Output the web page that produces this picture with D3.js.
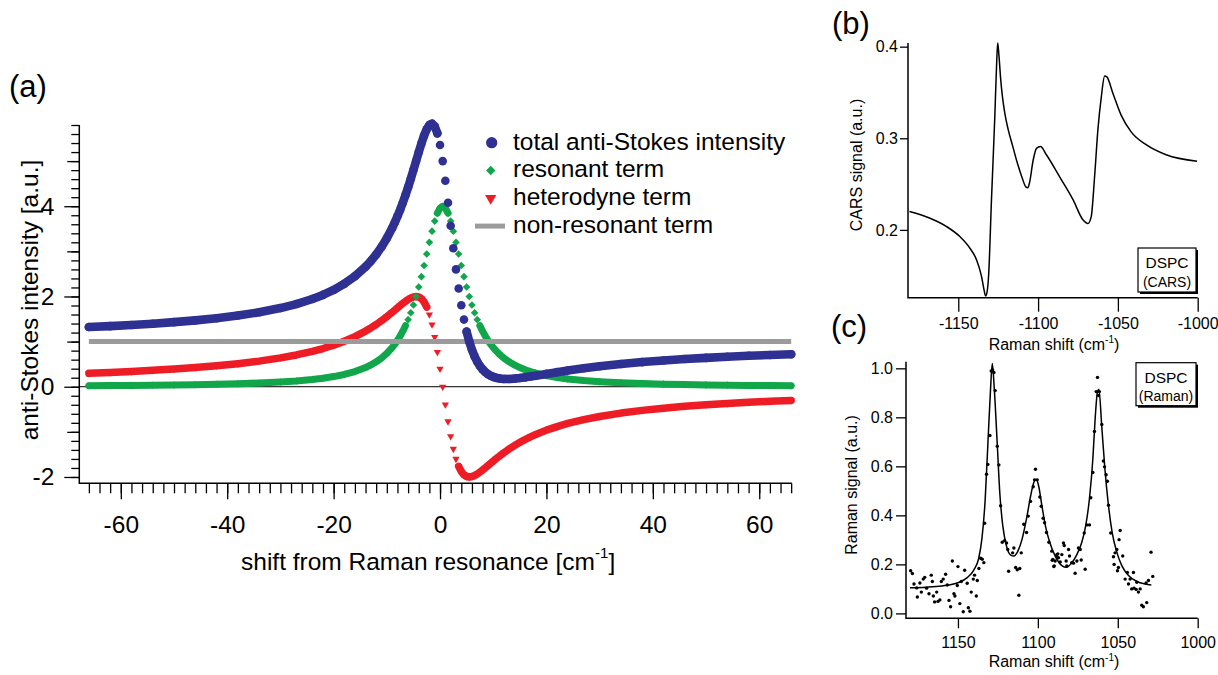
<!DOCTYPE html>
<html><head><meta charset="utf-8">
<script src="https://cdn.jsdelivr.net/npm/d3@7"></script>
<style>
html,body{margin:0;padding:0;background:#fff;}
svg{display:block;font-family:"Liberation Sans",Arial,Helvetica,sans-serif;}
</style></head><body>
<svg id="chart" width="1218" height="675"></svg>
<script>
// ---------- Panel (a) data ----------
const shift = [-66,-62,-58,-54,-50,-46,-42,-38,-34,-30,-27,-24,-22,-20,-18,-16,-14,-13,-12,-11,-10,-9,
  -8.5,-8,-7.5,-7,-6.5,-6,-5.5,-5,-4.5,-4,-3.5,-3,-2.5,-2,-1.5,-1,-0.5,0,0.5,1,1.5,2,2.5,3,3.5,4,4.5,5,5.5,6,
  6.5,7,7.5,8,8.5,9,9.5,10,10.5,11,11.5,12,13,14,15,16,17,18,20,22,24,27,30,34,38,42,46,50,54,58,62,66];
const totalIntensity = [1.322,1.343,1.368,1.397,1.431,1.471,1.519,1.577,1.650,1.743,1.832,1.944,2.035,2.145,2.280,2.447,2.658,2.785,2.931,3.099,3.292,3.516,
  3.641,3.776,3.921,4.077,4.243,4.420,4.607,4.801,5.000,5.199,5.390,5.564,5.706,5.800,5.828,5.771,5.615,5.356,5.000,4.564,
  4.077,3.569,3.069,2.600,2.177,1.805,1.488,1.221,1.000,0.819,0.672,0.554,0.460,0.385,0.326,0.280,0.245,0.219,0.200,0.187,
  0.178,0.173,0.172,0.180,0.192,0.208,0.226,0.245,0.284,0.323,0.359,0.409,0.453,0.503,0.546,0.582,0.613,0.640,0.664,0.685,0.703,0.720];
const resonantTerm = [0.0225,0.0254,0.029,0.0334,0.0388,0.0457,0.0546,0.0663,0.0823,0.1047,0.128,0.160,0.188,0.225,0.272,0.336,0.425,0.483,0.552,0.636,0.739,0.868,
  0.943,1.028,1.124,1.231,1.351,1.487,1.639,1.810,2.000,2.210,2.439,2.685,2.941,3.200,3.448,3.670,3.846,3.960,4.000,3.960,
  3.846,3.670,3.448,3.200,2.941,2.685,2.439,2.210,2.000,1.810,1.639,1.487,1.351,1.231,1.124,1.028,0.943,0.868,0.800,0.739,
  0.685,0.636,0.552,0.483,0.425,0.377,0.336,0.302,0.247,0.205,0.173,0.138,0.112,0.0872,0.0699,0.0572,0.0477,0.0404,0.0346,0.030,0.0263,0.0232];
const heterodyneTerm = [0.299,0.318,0.339,0.364,0.392,0.425,0.464,0.511,0.568,0.639,0.704,0.784,0.847,0.921,1.008,1.110,1.233,1.303,1.379,1.463,1.553,1.649,
  1.698,1.748,1.798,1.846,1.892,1.933,1.967,1.991,2.000,1.989,1.951,1.879,1.765,1.600,1.379,1.101,0.769,0.396,0,-0.396,
  -0.769,-1.101,-1.379,-1.600,-1.765,-1.879,-1.951,-1.989,-2.000,-1.991,-1.967,-1.933,-1.892,-1.846,-1.798,-1.748,-1.698,-1.649,-1.600,-1.553,
  -1.507,-1.463,-1.379,-1.303,-1.233,-1.169,-1.110,-1.057,-0.962,-0.883,-0.814,-0.729,-0.659,-0.584,-0.524,-0.475,-0.434,-0.400,-0.371,-0.345,-0.323,-0.304];
const nonResonantLevel = 1;
const nonResonantRange = [-66, 66];
const xTicksA = [-60,-40,-20,0,20,40,60];
const yTicksA = [-2,0,2,4];
const legendLabels = ["total anti-Stokes intensity","resonant term","heterodyne term","non-resonant term"];

// ---------- Panel (b) data ----------
const carsShift = [-1180.6,-1167.7,-1157.3,-1149,-1142.7,-1138.5,-1135.4,-1133.8,-1132.9,-1131.9,-1131.0,-1129.2,-1127.1,-1125.9,-1125.3,
  -1124.5,-1123.5,-1122.3,-1120.8,-1118.8,-1116.0,-1113.0,-1110.0,-1107.7,-1106.4,-1105.3,-1103.1,-1101.0,-1098.5,-1094.8,-1086.5,-1078.1,-1071.9,-1068.75,
  -1066.7,-1064.6,-1062.5,-1060.4,-1058.3,-1056.9,-1053.1,-1047.9,-1041.7,-1032.3,-1019.8,-1000.4];
const carsSignal = [0.220,0.2127,0.2036,0.1927,0.180,0.167,0.149,0.134,0.128,0.133,0.150,0.233,0.324,0.385,0.404,
  0.390,0.366,0.345,0.327,0.310,0.292,0.273,0.257,0.247,0.246,0.252,0.276,0.289,0.291,0.282,0.258,0.233,0.211,0.207,
  0.2145,0.258,0.310,0.345,0.368,0.367,0.349,0.325,0.307,0.293,0.282,0.275];
const xTicksB = [-1150,-1100,-1050,-1000];
const yTicksB = [0.2,0.3,0.4];

// ---------- Panel (c) data ----------
const ramanFitShift = [1180,1170,1160,1150,1144,1140,1137,1135,1133,1131.3,1129.6,1128.5,1127.3,1125.4,1123.8,1122,1119.6,1117,1115,1112.5,
  1110,1107,1104.5,1102.5,1101,1099.5,1097.5,1095.2,1092.5,1089,1085,1082,1079,1075.6,1072.5,1070,1067.7,1065.6,1064.2,1062.7,
  1061.8,1060,1058,1056,1053.5,1050.6,1047.5,1043.3,1038,1033,1029];
const ramanFit = [0.105,0.107,0.112,0.125,0.147,0.178,0.225,0.305,0.46,0.688,0.916,1.02,0.92,0.69,0.49,0.36,0.274,0.238,0.234,0.254,
  0.30,0.39,0.48,0.535,0.547,0.52,0.44,0.355,0.288,0.232,0.195,0.188,0.205,0.24,0.29,0.36,0.47,0.63,0.79,0.905,
  0.915,0.76,0.585,0.45,0.33,0.25,0.195,0.155,0.13,0.12,0.116];
const ramanPoints = [
  [1179.6,0.174],[1178.5,0.163],[1177.5,0.12],[1175.8,0.104],[1175.4,0.067],[1173.8,0.124],[1172.9,0.087],[1171.7,0.14],
  [1170.8,0.147],[1169.6,0.103],[1168.1,0.08],[1166.7,0.156],[1166.0,0.13],[1165.4,0.071],[1164.6,0.047],[1163.3,0.087],
  [1162.5,0.049],[1161.3,0.055],[1160.4,0.13],[1159.2,0.14],[1157.7,0.16],[1156.7,0.116],[1155.6,0.053],[1154.6,0.027],
  [1153.5,0.214],[1152.5,0.08],[1151.9,0.071],[1150.0,0.191],[1150.4,0.114],[1148.8,0.04],[1147.9,0.13],[1146.7,0.007],
  [1145.8,0.176],[1144.2,0.123],[1143.5,0.023],[1142.5,0.009],[1141.7,0.087],[1140.4,0.14],[1139.6,0.156],[1138.5,0.071],
  [1137.9,0.134],[1136.9,0.183],[1135.8,0.225],[1134.8,0.221],[1133.8,0.207],[1133.3,0.368],[1132.1,0.568],[1131.3,0.608],
  [1130.0,0.726],[1129.2,0.989],[1128.3,0.993],[1127.5,0.983],[1126.7,0.909],[1125.4,0.682],[1124.4,0.606],[1123.3,0.439],
  [1122.3,0.29],[1120.8,0.297],[1119.6,0.287],[1118.8,0.261],[1118.3,0.172],[1115.8,0.247],[1115.0,0.267],[1113.9,0.187],
  [1112.9,0.178],[1111.9,0.074],[1111.3,0.183],[1110.4,0.247],[1108.8,0.364],[1107.1,0.33],[1106.0,0.397],[1104.6,0.457],
  [1102.9,0.517],[1102.1,0.545],[1101.5,0.588],[1100.4,0.545],[1098.8,0.475],[1097.9,0.437],[1096.7,0.388],[1095.8,0.37],
  [1094.6,0.33],[1093.1,0.29],[1091.0,0.217],[1090.0,0.191],[1088.3,0.234],[1087.5,0.243],
  [1091.3,0.254],[1090.6,0.22],[1089.8,0.194],[1089.2,0.214],[1088.1,0.24],[1087.1,0.227],[1086.0,0.21],[1085.0,0.24],
  [1084.0,0.287],[1083.5,0.277],[1082.3,0.214],[1081.9,0.194],[1080.8,0.261],[1080.2,0.234],[1078.8,0.207],[1077.7,0.205],
  [1076.7,0.164],[1075.6,0.214],[1074.6,0.267],[1073.5,0.261],[1072.9,0.218],[1071.0,0.328],[1070.4,0.18],[1069.4,0.361],
  [1067.7,0.361],[1066.9,0.472],[1065.6,0.575],[1064.6,0.742],[1063.5,0.905],[1062.7,0.963],[1062.1,0.889],[1061.5,0.905],
  [1060.0,0.771],[1059.0,0.622],[1058.3,0.598],[1057.3,0.566],[1056.5,0.539],[1055.8,0.441],[1054.4,0.328],[1052.7,0.231],
  [1052.3,0.2],[1051.7,0.247],[1050.6,0.261],[1050.2,0.174],[1049.6,0.187],[1049.2,0.301],[1048.5,0.338],[1046.9,0.234],
  [1045.4,0.14],[1044.0,0.167],[1043.3,0.12],[1042.3,0.14],[1041.3,0.1],[1040.2,0.167],[1039.8,0.103],[1038.5,0.098],
  [1038.1,0.127],[1037.1,0.087],[1036.0,0.1],[1035.0,0.033],[1034.0,0.027],[1032.3,0.124],[1031.9,0.044],[1030.8,0.134],
  [1029.2,0.25],[1028.1,0.151]];
const xTicksC = [1150,1100,1050,1000];
const yTicksC = [0.0,0.2,0.4,0.6,0.8,1.0];

// ---------- drawing ----------
const svg = d3.select("#chart");
const C_BLUE = "#2e3192", C_GREEN = "#12a64b", C_RED = "#ee1c25", C_GRAY = "#9b9b9b";
const hy = s => String(s).replace("\u2212","-");

function styleAxis(g, fs){
  g.select(".domain").remove();
  g.selectAll("line").attr("stroke","#000").attr("stroke-width",1.3);
  g.selectAll("text").attr("fill","#000").attr("font-size",fs).attr("font-family","Liberation Sans, Arial, sans-serif");
}

// ===== Panel (a) =====
const xA = d3.scaleLinear().domain([-67.8, 66.1]).range([79.3, 791.7]);
const yA = d3.scaleLinear().domain([-2.14, 5.8]).range([483.3, 125]);
const gA = svg.append("g");

gA.append("line").attr("x1",xA.range()[0]).attr("x2",xA.range()[1]).attr("y1",yA(0)).attr("y2",yA(0))
  .attr("stroke","#000").attr("stroke-width",1);

const xMinorA = d3.range(-66, 67, 2);
gA.append("g").attr("transform",`translate(0,${yA.range()[0]})`)
  .call(d3.axisBottom(xA).tickValues(xMinorA).tickSize(10).tickFormat("")).call(g=>styleAxis(g,0));
gA.append("g").attr("transform",`translate(0,${yA.range()[0]})`)
  .call(d3.axisBottom(xA).tickValues(xTicksA).tickSize(16).tickPadding(16).tickFormat(d=>hy(d)))
  .call(g=>styleAxis(g,"24.5px"));
const yMinorA = d3.range(-10, 30).map(i=>i/5);
gA.append("g").attr("transform",`translate(${xA.range()[0]},0)`)
  .call(d3.axisLeft(yA).tickValues(yMinorA).tickSize(8).tickFormat("")).call(g=>styleAxis(g,0));
gA.append("g").attr("transform",`translate(${xA.range()[0]},0)`)
  .call(d3.axisLeft(yA).tickValues([-1,1,3,5]).tickSize(12).tickFormat("")).call(g=>styleAxis(g,0));
gA.append("g").attr("transform",`translate(${xA.range()[0]},0)`)
  .call(d3.axisLeft(yA).tickValues(yTicksA).tickSize(15).tickPadding(10).tickFormat(d=>hy(d)))
  .call(g=>styleAxis(g,"24.5px"));
gA.append("path").attr("d",`M${xA.range()[0]},${yA.range()[1]}V${yA.range()[0]}H${xA.range()[1]}`)
  .attr("fill","none").attr("stroke","#000").attr("stroke-width",1.5);

function bandRuns(pts, thr){
  const runs=[]; let cur=[pts[0]];
  for(let i=1;i<pts.length;i++){
    if(Math.abs(pts[i][1]-pts[i-1][1])<thr) cur.push(pts[i]);
    else { runs.push(cur); cur=[pts[i]]; }
  }
  runs.push(cur); return runs;
}
function drawSeries(vals, color, bandW, thr, symType, symSize, rot){
  const pts = shift.map((x,i)=>[xA(x), yA(vals[i])]);
  const g = gA.append("g");
  const line = d3.line();
  bandRuns(pts, thr).filter(r=>r.length>1).forEach(r=>{
    g.append("path").attr("d",line(r)).attr("fill","none").attr("stroke",color)
      .attr("stroke-width",bandW).attr("stroke-linecap","round").attr("stroke-linejoin","round");
  });
  const sym = d3.symbol(symType, symSize)();
  g.selectAll("path.m").data(pts).join("path").attr("class","m").attr("d",sym)
    .attr("transform",d=>`translate(${d[0]},${d[1]}) rotate(${rot})`).attr("fill",color);
}
drawSeries(heterodyneTerm, C_RED, 7.5, 6, d3.symbolTriangle, 23, 180);
drawSeries(resonantTerm, C_GREEN, 7, 6, d3.symbolSquare, 29, 45);
gA.append("line").attr("x1",xA(nonResonantRange[0])).attr("x2",xA(nonResonantRange[1]))
  .attr("y1",yA(nonResonantLevel)).attr("y2",yA(nonResonantLevel)).attr("stroke",C_GRAY).attr("stroke-width",5);
drawSeries(totalIntensity, C_BLUE, 8.6, 10.8, d3.symbolCircle, 58, 0);

const legY0 = 142.7, legDy = 27.8;
const leg = gA.append("g");
legendLabels.forEach((lab,i)=>{
  const y = legY0 + i*legDy;
  if(i===0) leg.append("path").attr("d",d3.symbol(d3.symbolCircle,100)()).attr("transform",`translate(491.7,${y})`).attr("fill",C_BLUE);
  if(i===1) leg.append("path").attr("d",d3.symbol(d3.symbolSquare,44)()).attr("transform",`translate(490.7,${y}) rotate(45)`).attr("fill",C_GREEN);
  if(i===2) leg.append("path").attr("d",d3.symbol(d3.symbolTriangle,55)()).attr("transform",`translate(490.7,${y}) rotate(180)`).attr("fill",C_RED);
  if(i===3) leg.append("line").attr("x1",475).attr("x2",505).attr("y1",y).attr("y2",y).attr("stroke",C_GRAY).attr("stroke-width",5);
  leg.append("text").attr("x",513).attr("y",y+6.8).attr("font-size","24.5px").text(lab);
});

gA.append("text").attr("x",241).attr("y",569.5).attr("font-size","24.5px")
  .call(t=>{ t.append("tspan").text("shift from Raman resonance [cm");
    t.append("tspan").attr("dy",-12).attr("font-size","15px").text("-1");
    t.append("tspan").attr("dy",12).text("]"); });
gA.append("text").attr("transform","translate(38,300) rotate(-90)").attr("text-anchor","middle")
  .attr("font-size","24.5px").text("anti-Stokes intensity [a.u.]");
svg.append("text").attr("x",9).attr("y",96.5).attr("font-size","31px").text("(a)");

// ===== Panel (b) =====
const xB = d3.scaleLinear().domain([-1181.5, -1000]).range([908, 1197.7]);
const yB = d3.scaleLinear().domain([0.126, 0.404]).range([297.7, 43]);
const gB = svg.append("g");
gB.append("g").attr("transform",`translate(0,${yB.range()[0]})`)
  .call(d3.axisBottom(xB).tickValues(xTicksB).tickSize(14).tickPadding(6).tickFormat(d=>hy(d)))
  .call(g=>styleAxis(g,"16px"));
gB.append("g").attr("transform",`translate(${xB.range()[0]},0)`)
  .call(d3.axisLeft(yB).tickValues(yTicksB).tickSize(8).tickPadding(2).tickFormat(d3.format(".1f")))
  .call(g=>styleAxis(g,"16px"));
gB.append("path").attr("d",`M${xB.range()[0]},${yB.range()[1]}V${yB.range()[0]}H${xB.range()[1]}`)
  .attr("fill","none").attr("stroke","#000").attr("stroke-width",1.5);
gB.append("path").datum(carsShift.map((x,i)=>[x,carsSignal[i]]))
  .attr("d",d3.line().x(d=>xB(d[0])).y(d=>yB(d[1])).curve(d3.curveMonotoneX))
  .attr("fill","none").attr("stroke","#000").attr("stroke-width",1.5);
gB.append("text").attr("x",1054).attr("y",350).attr("text-anchor","middle").attr("font-size","16px")
  .call(t=>{ t.append("tspan").text("Raman shift (cm");
    t.append("tspan").attr("dy",-7).attr("font-size","10px").text("-1");
    t.append("tspan").attr("dy",7).text(")"); });
gB.append("text").attr("transform","translate(862,165) rotate(-90)").attr("text-anchor","middle")
  .attr("font-size","16px").text("CARS signal (a.u.)");
svg.append("text").attr("x",832).attr("y",34).attr("font-size","31px").text("(b)");

function labelBox(g, x, y, w, h, l1, l2){
  g.append("rect").attr("x",x+2).attr("y",y+2).attr("width",w).attr("height",h).attr("fill","#000");
  g.append("rect").attr("x",x).attr("y",y).attr("width",w).attr("height",h).attr("fill","#fff")
    .attr("stroke","#000").attr("stroke-width",1.2);
  g.append("text").attr("x",x+w/2).attr("y",y+20).attr("text-anchor","middle").attr("font-size","15.5px").text(l1);
  g.append("text").attr("x",x+w/2).attr("y",y+38.5).attr("text-anchor","middle").attr("font-size","14px").text(l2);
}
labelBox(gB, 1138, 248, 58, 44, "DSPC", "(CARS)");

// ===== Panel (c) =====
const xC = d3.scaleLinear().domain([1182.5, 1000]).range([906, 1197.7]);
const yC = d3.scaleLinear().domain([-0.02, 1.027]).range([618.3, 361.7]);
const gC = svg.append("g");
gC.append("g").attr("transform",`translate(0,${yC.range()[0]})`)
  .call(d3.axisBottom(xC).tickValues(xTicksC).tickSize(10).tickPadding(8).tickFormat(d=>hy(d)))
  .call(g=>styleAxis(g,"16px"));
gC.append("g").attr("transform",`translate(${xC.range()[0]},0)`)
  .call(d3.axisLeft(yC).tickValues(yTicksC).tickSize(10).tickPadding(3).tickFormat(d3.format(".1f")))
  .call(g=>styleAxis(g,"16px"));
gC.append("path").attr("d",`M${xC.range()[0]},${yC.range()[1]}V${yC.range()[0]}H${xC.range()[1]}`)
  .attr("fill","none").attr("stroke","#000").attr("stroke-width",1.5);
gC.append("path").datum(ramanFitShift.map((x,i)=>[x,ramanFit[i]]))
  .attr("d",d3.line().x(d=>xC(d[0])).y(d=>yC(d[1])).curve(d3.curveMonotoneX))
  .attr("fill","none").attr("stroke","#000").attr("stroke-width",1.5);
gC.selectAll("circle.dot").data(ramanPoints).join("circle").attr("class","dot")
  .attr("cx",d=>xC(d[0])).attr("cy",d=>yC(d[1])).attr("r",1.7).attr("fill","#000");
gC.append("text").attr("x",1054).attr("y",667).attr("text-anchor","middle").attr("font-size","16px")
  .call(t=>{ t.append("tspan").text("Raman shift (cm");
    t.append("tspan").attr("dy",-6).attr("font-size","10px").text("-1");
    t.append("tspan").attr("dy",6).text(")"); });
gC.append("text").attr("transform","translate(857,485) rotate(-90)").attr("text-anchor","middle")
  .attr("font-size","16px").text("Raman signal (a.u.)");
svg.append("text").attr("x",831).attr("y",337).attr("font-size","31px").text("(c)");
labelBox(gC, 1136, 362.7, 60, 43, "DSPC", "(Raman)");
</script>
</body></html>
